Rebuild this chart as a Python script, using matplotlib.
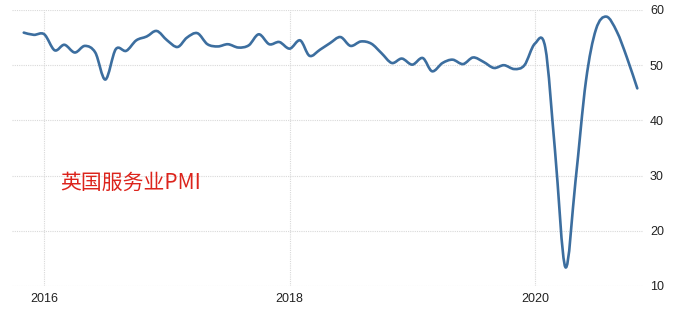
import matplotlib
matplotlib.use("Agg")
import matplotlib.pyplot as plt
import matplotlib.dates as mdates
from matplotlib.path import Path
from matplotlib.patches import PathPatch
import pandas as pd
import numpy as np

# UK services PMI, monthly, Nov 2015 - Nov 2020
first_month = "2015-11-01"
pmi = [55.9, 55.5,
       55.6, 52.7, 53.7, 52.3, 53.5, 52.3, 47.4, 52.9, 52.6, 54.5, 55.2, 56.2,
       54.5, 53.3, 55.0, 55.8, 53.8, 53.4, 53.8, 53.2, 53.6, 55.6, 53.8, 54.2,
       53.0, 54.5, 51.7, 52.8, 54.0, 55.1, 53.5, 54.3, 53.9, 52.2, 50.4, 51.2,
       50.1, 51.3, 48.9, 50.4, 51.0, 50.2, 51.4, 50.6, 49.5, 50.0, 49.3, 50.0,
       53.9, 53.2, 34.5, 13.4, 29.0, 47.1, 56.5, 58.8, 56.1, 51.4, 45.8]
year_ticks = ["2016-01-01", "2018-01-01", "2020-01-01"]
y_ticks = [10, 20, 30, 40, 50, 60]
label = "英国服务业PMI"

months = pd.date_range(first_month, periods=len(pmi), freq="MS")
x = mdates.date2num(months.to_pydatetime())
y = np.array(pmi)

fig = plt.figure(figsize=(7, 3.18), dpi=100)
ax = fig.add_axes([12/700, 1-286/318, 631/700, 276/318])

# smooth line (catmull-rom through the monthly points)
px = np.concatenate([[x[0]], x, [x[-1]]])
py = np.concatenate([[y[0]], y, [y[-1]]])
verts = [(x[0], y[0])]
codes = [Path.MOVETO]
for i in range(1, len(px) - 2):
    c1 = (px[i] + (px[i+1] - px[i-1]) / 6, py[i] + (py[i+1] - py[i-1]) / 6)
    c2 = (px[i+1] - (px[i+2] - px[i]) / 6, py[i+1] - (py[i+2] - py[i]) / 6)
    verts += [c1, c2, (px[i+1], py[i+1])]
    codes += [Path.CURVE4] * 3
ax.add_patch(PathPatch(Path(verts, codes), facecolor="none", edgecolor="#3c6e9f",
                       lw=1.9, capstyle="round", joinstyle="round"))

start = mdates.date2num(pd.Timestamp("2016-01-01"))
ax.set_xlim(start - 96, start + 1461 + 322)
ax.set_ylim(10, 60)

ax.set_xticks(mdates.date2num(pd.to_datetime(year_ticks).to_pydatetime()))
ax.set_xticklabels([t[:4] for t in year_ticks])
ax.set_yticks(y_ticks)
ax.yaxis.tick_right()
ax.tick_params(length=0, labelsize=9, labelcolor="#222222")
ax.tick_params(axis="y", pad=5)
ax.tick_params(axis="x", pad=5)
for t in ax.get_xticklabels() + ax.get_yticklabels():
    t.set_family(["Liberation Sans Narrow", "Liberation Sans"])

ax.grid(True, color="#d9d9d9", lw=0.8, ls=(0, (1, 1)))
ax.set_axisbelow(True)
for s in ax.spines.values():
    s.set_visible(False)

ax.text(0.077, 0.375, label, transform=ax.transAxes, color="#dc241c", fontsize=15,
        family=["Noto Sans CJK SC", "DejaVu Sans"], va="center", ha="left")

fig.savefig("out.png", dpi=100)
